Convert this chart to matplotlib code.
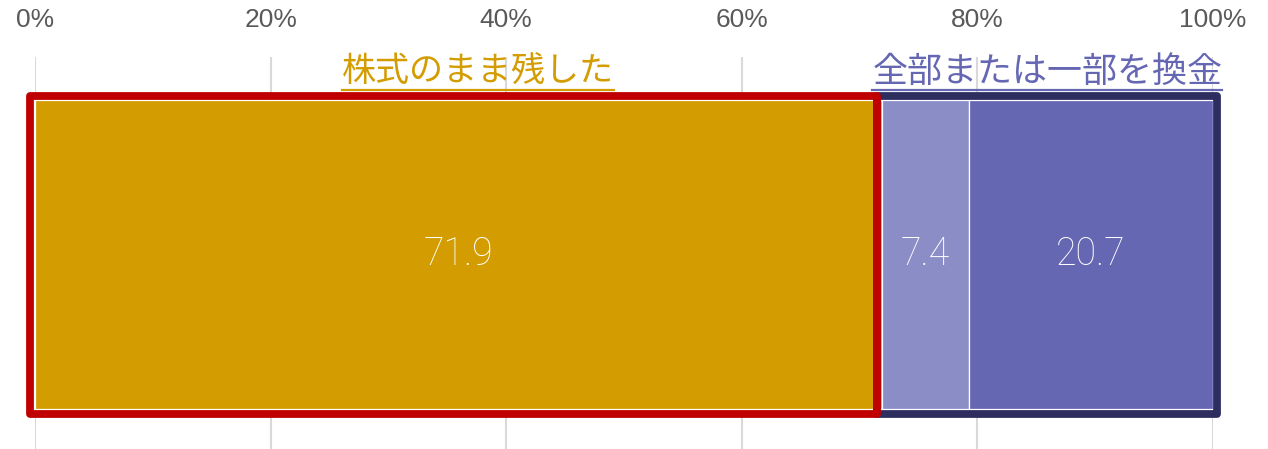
import matplotlib
matplotlib.use("Agg")
import matplotlib.pyplot as plt
from matplotlib.patches import Rectangle
from matplotlib.lines import Line2D
from matplotlib import transforms

# ---- data -------------------------------------------------------------
segment_values = [71.9, 7.4, 20.7]
segment_colors = ["#D39C00", "#8B8DC7", "#6567B3"]
group_labels = ["株式のまま残した", "全部または一部を換金"]
group_colors = ["#D39C00", "#6567B3"]
tick_values = [0, 20, 40, 60, 80, 100]
tick_labels = ["0%", "20%", "40%", "60%", "80%", "100%"]

# ---- figure geometry (pixels) ----------------------------------------
W, H, DPI = 1268, 449, 100
x0_px, x1_px = 35, 1213          # 0% and 100% positions
top_px = 57                      # top of plot area (grid starts here)
bar_top_px, bar_bot_px = 100, 409

fig = plt.figure(figsize=(W / DPI, H / DPI), dpi=DPI)
ax = fig.add_axes([x0_px / W, 0, (x1_px - x0_px) / W, (H - top_px) / H])

# y axis measured in pixels below the top of the plot area
plot_h = H - top_px
ax.set_ylim(plot_h, 0)
ax.set_xlim(0, 100)

bar_y = (bar_top_px + bar_bot_px) / 2 - top_px
bar_h = bar_bot_px - bar_top_px

left = 0.0
for val, col in zip(segment_values, segment_colors):
    ax.barh(bar_y, val, left=left, height=bar_h, color=col,
            edgecolor="white", linewidth=0.9, zorder=2)
    ax.text(left + val / 2, bar_y, f"{val:.1f}", ha="center", va="center",
            color="white", fontsize=27, fontfamily="Roboto",
            fontweight="light", zorder=5)
    left += val

# group outlines: retained shares (red) and sold shares (navy)
px_per_unit = (x1_px - x0_px) / 100
shift = 5 / px_per_unit
ol_top = bar_top_px - top_px - 4.5
ol_h = bar_h + 9
kept = segment_values[0]
navy = Rectangle((kept - shift, ol_top), 100 - kept + shift + 3.5 / px_per_unit, ol_h,
                 fill=False, edgecolor="#2D2E5F", linewidth=5.6,
                 joinstyle="round", zorder=3, clip_on=False)
red = Rectangle((-shift, ol_top), kept, ol_h,
                fill=False, edgecolor="#C00000", linewidth=5.6,
                joinstyle="round", zorder=4, clip_on=False)
ax.add_patch(navy)
ax.add_patch(red)

# axis styling
ax.set_xticks(tick_values)
ax.set_xticklabels(tick_labels)
ax.xaxis.tick_top()
ax.tick_params(axis="x", length=0, pad=18, labelsize=19, labelcolor="#595959")
for lbl in ax.get_xticklabels():
    lbl.set_fontfamily("Liberation Sans")
ax.set_yticks([])
ax.grid(axis="x", color="#D9D9D9", linewidth=1.5, zorder=0)
ax.set_axisbelow(True)
for sp in ax.spines.values():
    sp.set_visible(False)

# group headings with underline
label_x = [37.6, kept + (100 - kept) / 2]
label_sizes = [24.5, 25.2]
trans = transforms.blended_transform_factory(ax.transData, fig.transFigure)
texts = []
for x, txt, col, fs in zip(label_x, group_labels, group_colors, label_sizes):
    t = fig.text(x, 1 - 72 / H, txt, transform=trans, ha="center", va="center",
                 color=col, fontsize=fs, fontfamily="Noto Sans CJK JP")
    texts.append(t)

renderer = fig.canvas.get_renderer()
for t, col in zip(texts, group_colors):
    bb = t.get_window_extent(renderer)
    y_line = 1 - 90 / H
    fig.add_artist(Line2D([bb.x0 / W, bb.x1 / W], [y_line, y_line],
                          transform=fig.transFigure, color=col, linewidth=1.6))

fig.savefig("out.png", dpi=DPI)
